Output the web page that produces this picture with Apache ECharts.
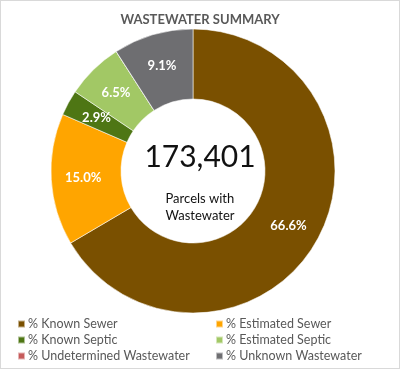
<!DOCTYPE html>
<html>
<head>
<meta charset="utf-8">
<script src="https://cdn.jsdelivr.net/npm/echarts@6/dist/echarts.min.js"></script>
<style>
html,body{margin:0;padding:0;background:#fff;}
#c{position:absolute;left:0;top:0;width:398px;height:367px;border:1px solid #d9d9d9;}
</style>
</head>
<body>
<div id="c"></div>
<script>
const titleText = 'WASTEWATER SUMMARY';
const categories = ['% Known Sewer','% Estimated Sewer','% Known Septic','% Estimated Septic','% Undetermined Wastewater','% Unknown Wastewater'];
const values = [66.6, 15.0, 2.9, 6.5, 0, 9.1];
const colors = ['#7A5000','#FFA500','#4E7614','#A2C865','#C65B5B','#6E6E71'];
const totalParcels = '173,401';
const centerCaption = ['Parcels with','Wastewater'];

const FONT = 'Lato, "Open Sans", sans-serif';
const chart = echarts.init(document.getElementById('c'), null, {renderer:'canvas'});
const data = categories.map((n,i)=>({
  name:n, value:values[i],
  itemStyle:{color:colors[i]},
  label:{show: values[i] > 0}
}));
const legendCommon = {orient:'vertical',top:316,height:50,padding:0,itemWidth:7,itemHeight:7,itemGap:2,icon:'rect',
  textStyle:{fontFamily:FONT,fontSize:12.5,color:'#595959',lineHeight:14,padding:[0,0,0,-2]}};
chart.setOption({
  animation:false,
  title:{text:titleText,left:'center',top:7,textStyle:{fontFamily:FONT,fontSize:13,fontWeight:'bold',color:'#595959'}},
  legend:[
    Object.assign({left:16,data:[categories[0],categories[2],categories[4]]},legendCommon),
    Object.assign({left:214,data:[categories[1],categories[3],categories[5]]},legendCommon)
  ],
  graphic:[
    {type:'text',left:'center',top:141,style:{text:totalParcels,fontFamily:FONT,fontSize:30,fill:'#111'},z:10},
    {type:'text',left:'center',top:189,style:{text:centerCaption.join('\n'),fontFamily:FONT,fontSize:13,lineHeight:17,fill:'#111',align:'center'},z:10}
  ],
  series:[{
    type:'pie',
    center:[192,170],
    radius:[72,142],
    startAngle:90,
    clockwise:true,
    avoidLabelOverlap:false,
    data:data,
    itemStyle:{borderColor:'rgba(255,255,255,0.55)',borderWidth:1},
    label:{position:'inside',color:'#fff',fontFamily:FONT,fontSize:13,fontWeight:'bold',
      formatter:p=>p.value.toFixed(1)+'%'},
    labelLine:{show:false},
    emphasis:{disabled:true}
  }]
});
</script>
</body>
</html>
